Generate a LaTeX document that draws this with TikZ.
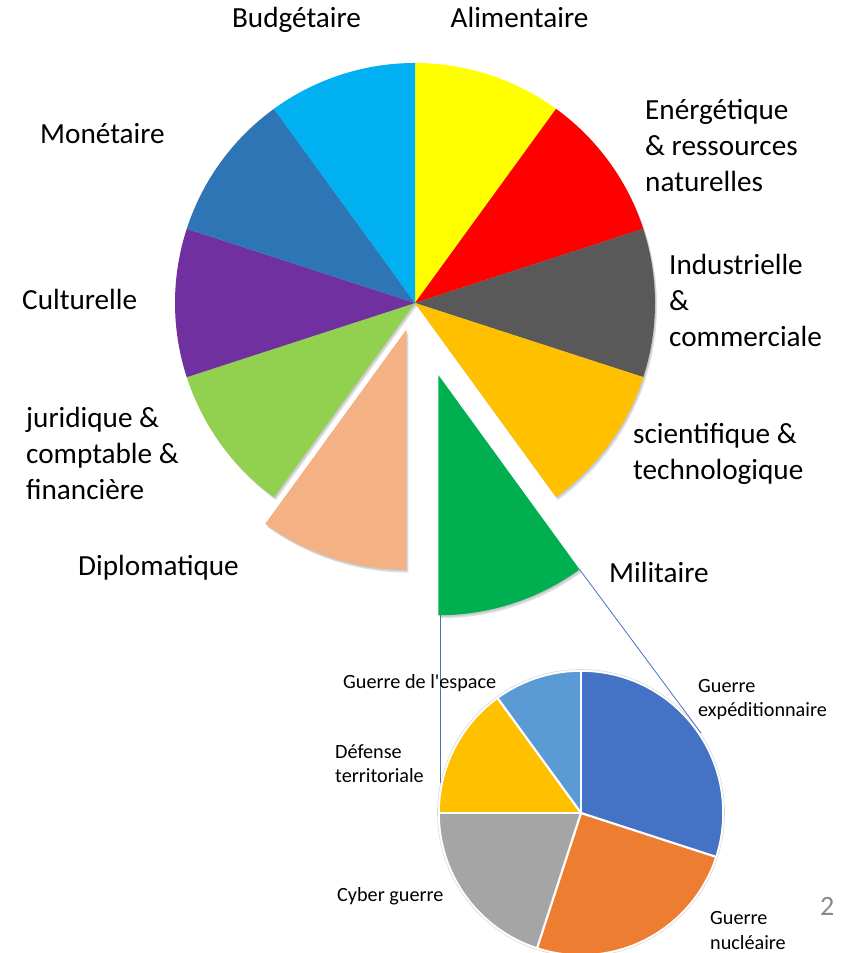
\documentclass[tikz,border=0pt]{standalone}
\usepackage{fontspec}
\setmainfont{Carlito}
\usetikzlibrary{calc}
\definecolor{cYellow}{HTML}{FFFF00}
\definecolor{cRed}{HTML}{FF0000}
\definecolor{cDark}{HTML}{595959}
\definecolor{cAmber}{HTML}{FFC000}
\definecolor{cGreen}{HTML}{00B050}
\definecolor{cPeach}{HTML}{F4B183}
\definecolor{cLime}{HTML}{92D050}
\definecolor{cPurple}{HTML}{7030A0}
\definecolor{cSteel}{HTML}{2E75B6}
\definecolor{cSky}{HTML}{00B0F0}
\definecolor{sBlue}{HTML}{4472C4}
\definecolor{sOrange}{HTML}{ED7D31}
\definecolor{sGray}{HTML}{A5A5A5}
\definecolor{sGold}{HTML}{FFC000}
\definecolor{sLight}{HTML}{5B9BD5}
\definecolor{pageGray}{HTML}{898989}
\newcommand\mySlice[5]{% center, start, end, radius, color
  \fill[#5] (#1) -- ++(#2:#4) arc[start angle=#2, end angle=#3, radius=#4] -- cycle;}
\newcommand\myShadow[4]{% center, start, end, radius
  \fill[black, opacity=0.10] ([xshift=1pt,yshift=-1.5pt]#1) -- ++(#2:#4) arc[start angle=#2, end angle=#3, radius=#4] -- cycle;
  \fill[black, opacity=0.12] ([xshift=2pt,yshift=-3pt]#1) -- ++(#2:#4) arc[start angle=#2, end angle=#3, radius=#4] -- cycle;}
\newcommand\straightapos{{\XeTeXglyph\XeTeXcharglyph"27\relax}}
\begin{document}
\begin{tikzpicture}[x=1pt,y=1pt,
  big/.style={font=\fontsize{29.2}{36}\selectfont, inner sep=0pt, align=left},
  small/.style={font=\fontsize{20.2}{24.5}\selectfont, inner sep=0pt, align=left},
  link/.style={draw=sBlue, line width=0.8pt},
  sepline/.style={draw=white, line width=2.2pt}]
\useasboundingbox (0,0) rectangle (853,953);
\fill[white] (0,0) rectangle (853,953);

% ---------- main pie ----------
\coordinate (C) at (415,650);
\coordinate (Cmil) at ($(C)+(-72:76)$);
\coordinate (Cdip) at ($(C)+(-108:28)$);

% shadows
\myShadow{C}{90}{54}{240}
\myShadow{C}{54}{18}{240}
\myShadow{C}{18}{-18}{240}
\myShadow{C}{-18}{-54}{240}
\myShadow{Cmil}{-54}{-90}{240}
\myShadow{Cdip}{-90}{-126}{240}
\myShadow{C}{-126}{-162}{240}
\myShadow{C}{-162}{-198}{240}
\myShadow{C}{162}{126}{240}
\myShadow{C}{126}{90}{240}

% slices
\mySlice{C}{90}{54}{240}{cYellow}
\mySlice{C}{54}{18}{240}{cRed}
\mySlice{C}{18}{-18}{240}{cDark}
\mySlice{C}{-18}{-54}{240}{cAmber}
\mySlice{Cmil}{-54}{-90}{240}{cGreen}
\mySlice{Cdip}{-90}{-126}{240}{cPeach}
\mySlice{C}{-126}{-162}{240}{cLime}
\mySlice{C}{-162}{-198}{240}{cPurple}
\mySlice{C}{162}{126}{240}{cSteel}
\mySlice{C}{126}{90}{240}{cSky}

% ---------- small pie ----------
\coordinate (S) at (581,140);
\draw[black!15, line width=0.6pt] (S) circle[radius=143.5];
\mySlice{S}{90}{-18}{142}{sBlue}
\mySlice{S}{-18}{-108}{142}{sOrange}
\mySlice{S}{-108}{-180}{142}{sGray}
\mySlice{S}{180}{126}{142}{sGold}
\mySlice{S}{126}{90}{142}{sLight}
\foreach \a in {90,-18,-108,180,126} \draw[sepline] (S) -- ++(\a:142);
\draw[white, line width=1.6pt] (S) circle[radius=142];

% ---------- connectors ----------
\coordinate (L1a) at (440.5,338);
\coordinate (L1b) at (440.5,170);
\coordinate (L2a) at ($(Cmil)+(-54:240)$);
\coordinate (L2b) at (701,220);
\draw[link] (L1a) -- (L1b);
\draw[link] (L2a) -- (L2b);

% ---------- labels main ----------
\node[big, anchor=base] (budget) at (296.5,925) {Budgétaire};
\node[big, anchor=base] (alim) at (519.5,925) {Alimentaire};
\node[big, anchor=base west] (mone) at (40,809) {Monétaire};
\node[big, anchor=base west] (energ) at (645,761) {Enérgétique\\\& ressources\\naturelles};
\node[big, anchor=base west] (indus) at (669,606) {Industrielle\\\&\\commerciale};
\node[big, anchor=base west] (cult) at (22,643) {Culturelle};
\node[big, anchor=base west] (scien) at (633,473) {scientifique \&\\technologique};
\node[big, anchor=base west] (jurid) at (26,453) {juridique \&\\comptable \&\\financière};
\node[big, anchor=base west] (diplo) at (78,377) {Diplomatique};
\node[big, anchor=base west] (milit) at (609,370) {Militaire};

% ---------- labels small ----------
\node[small, anchor=base west] (espace) at (343,264) {Guerre de l\straightapos espace};
\node[small, anchor=base west] (defense) at (335,170) {Défense\\territoriale};
\node[small, anchor=base west] (cyber) at (337,51) {Cyber guerre};
\node[small, anchor=base west] (exped) at (698,236) {Guerre\\expéditionnaire};
\node[small, anchor=base west] (nucl) at (710,4) {Guerre\\nucléaire};
\node[font=\fontsize{28}{34}\selectfont, text=pageGray, inner sep=0pt, anchor=base west] (page) at (820,37) {2};
\end{tikzpicture}
\end{document}
